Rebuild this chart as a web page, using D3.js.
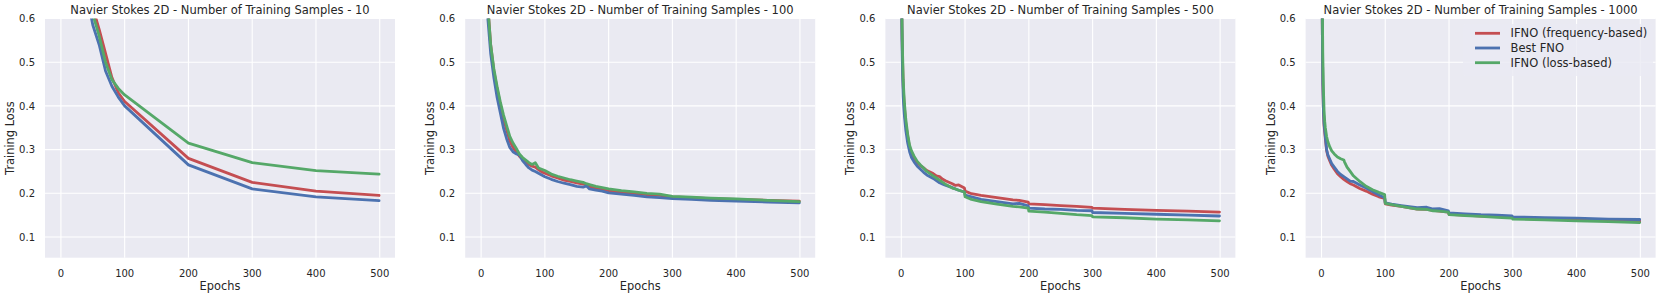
<!DOCTYPE html>
<html><head>
<meta charset="utf-8">
<script src="https://d3js.org/d3.v7.min.js"></script>
<style>
  body { margin: 0; background: #fff; }
  text { font-family: "DejaVu Sans", sans-serif; fill: #262626; }
</style>
</head>
<body>
<svg id="chart" width="1661" height="297"></svg>
<script>

// ---- data ----
const sampleSizes = [10, 100, 500, 1000];
const seriesNames = ["IFNO (frequency-based)", "Best FNO", "IFNO (loss-based)"];
const seriesColors = ["#c44e52", "#4c72b0", "#55a868"];
const xTicks = [0, 100, 200, 300, 400, 500];
const yTicks = [0.1, 0.2, 0.3, 0.4, 0.5, 0.6];

// 10 samples
const epochs10 = [0, 10, 20, 30, 40, 50, 60, 70, 80, 90, 100, 200, 300, 400, 499];
const freq10 = [1.25, 1.05, 0.92, 0.80, 0.70, 0.625, 0.575, 0.52, 0.465, 0.43, 0.41, 0.28, 0.225, 0.205, 0.195];
const best10 = [1.20, 1.00, 0.88, 0.77, 0.66, 0.585, 0.54, 0.48, 0.445, 0.42, 0.40, 0.265, 0.21, 0.192, 0.183];
const loss10 = [1.20, 1.02, 0.90, 0.78, 0.68, 0.61, 0.56, 0.50, 0.46, 0.44, 0.425, 0.315, 0.27, 0.252, 0.244];

// 100 samples
const epochs100 = [0, 5, 10, 15, 20, 25, 30, 35, 40, 45, 50, 55, 60, 65, 70, 75, 80, 85, 90, 95, 100,
  110, 120, 130, 140, 150, 160, 165, 170, 180, 190, 200, 220, 240, 260, 280, 300, 330, 360, 400, 450, 499];
const freq100 = [1.35, 0.90, 0.64, 0.54, 0.48, 0.44, 0.405, 0.37, 0.345, 0.32, 0.305, 0.295, 0.285, 0.278, 0.272, 0.266, 0.262, 0.26, 0.254, 0.249, 0.246,
  0.24, 0.235, 0.23, 0.227, 0.224, 0.221, 0.22, 0.216, 0.212, 0.209, 0.206, 0.202, 0.199, 0.197, 0.195, 0.192, 0.19, 0.188, 0.186, 0.184, 0.182];
const best100 = [1.30, 0.85, 0.61, 0.52, 0.465, 0.42, 0.385, 0.35, 0.325, 0.305, 0.295, 0.29, 0.288, 0.275, 0.266, 0.258, 0.253, 0.25, 0.246, 0.242, 0.238,
  0.232, 0.227, 0.223, 0.22, 0.216, 0.214, 0.217, 0.21, 0.207, 0.205, 0.201, 0.198, 0.195, 0.192, 0.19, 0.188, 0.186, 0.184, 0.182, 0.18, 0.178];
const loss100 = [1.35, 0.90, 0.64, 0.54, 0.485, 0.445, 0.41, 0.38, 0.355, 0.33, 0.315, 0.303, 0.29, 0.282, 0.276, 0.27, 0.266, 0.27, 0.258, 0.255, 0.252,
  0.244, 0.239, 0.235, 0.231, 0.228, 0.225, 0.222, 0.22, 0.216, 0.213, 0.21, 0.206, 0.203, 0.2, 0.198, 0.193, 0.191, 0.189, 0.187, 0.184, 0.181];

// 500 samples
const epochs500 = [0, 1, 2, 3, 4, 5, 7, 10, 13, 16, 20, 25, 30, 35, 40, 50, 55, 60, 65, 70, 80, 85, 90, 99, 100,
  110, 125, 150, 175, 185, 199, 200, 225, 250, 275, 299, 300, 350, 400, 450, 499];
const freq500 = [0.78, 0.58, 0.50, 0.445, 0.415, 0.395, 0.36, 0.33, 0.305, 0.29, 0.28, 0.27, 0.263, 0.258, 0.252, 0.245, 0.24, 0.238, 0.232, 0.228, 0.222, 0.218, 0.219, 0.212, 0.205,
  0.199, 0.195, 0.19, 0.185, 0.184, 0.18, 0.176, 0.174, 0.172, 0.17, 0.168, 0.166, 0.163, 0.161, 0.159, 0.157];
const best500 = [0.75, 0.55, 0.47, 0.42, 0.395, 0.375, 0.345, 0.315, 0.295, 0.282, 0.272, 0.262, 0.255, 0.248, 0.242, 0.234, 0.229, 0.224, 0.221, 0.218, 0.213, 0.21, 0.207, 0.203, 0.196,
  0.192, 0.186, 0.181, 0.176, 0.177, 0.171, 0.166, 0.164, 0.163, 0.161, 0.16, 0.156, 0.154, 0.152, 0.15, 0.148];
const loss500 = [0.80, 0.60, 0.52, 0.46, 0.43, 0.405, 0.37, 0.335, 0.31, 0.297, 0.285, 0.273, 0.265, 0.258, 0.25, 0.24, 0.235, 0.23, 0.225, 0.22, 0.212, 0.21, 0.207, 0.203, 0.192,
  0.186, 0.181, 0.175, 0.17, 0.169, 0.166, 0.159, 0.157, 0.154, 0.151, 0.149, 0.146, 0.144, 0.141, 0.139, 0.137];

// 1000 samples
const epochs1000 = [0, 1, 2, 3, 4, 5, 6, 8, 10, 13, 16, 20, 25, 30, 35, 36, 40, 45, 50, 60, 70, 80, 90, 99, 100,
  110, 125, 150, 165, 175, 185, 199, 200, 225, 250, 275, 299, 300, 350, 400, 450, 499];
const freq1000 = [0.90, 0.62, 0.45, 0.39, 0.355, 0.34, 0.325, 0.298, 0.285, 0.274, 0.264, 0.255, 0.245, 0.238, 0.232, 0.231, 0.227, 0.222, 0.219, 0.211, 0.205, 0.198, 0.192, 0.188, 0.176,
  0.173, 0.17, 0.164, 0.163, 0.161, 0.159, 0.157, 0.152, 0.15, 0.148, 0.147, 0.145, 0.143, 0.141, 0.14, 0.138, 0.136];
const best1000 = [0.90, 0.62, 0.45, 0.39, 0.36, 0.345, 0.33, 0.30, 0.288, 0.278, 0.268, 0.26, 0.25, 0.243, 0.238, 0.237, 0.233, 0.228, 0.227, 0.219, 0.212, 0.204, 0.196, 0.19, 0.178,
  0.175, 0.172, 0.167, 0.168, 0.164, 0.165, 0.16, 0.155, 0.153, 0.151, 0.15, 0.148, 0.146, 0.144, 0.143, 0.141, 0.14];
const loss1000 = [0.95, 0.70, 0.52, 0.44, 0.39, 0.365, 0.35, 0.33, 0.318, 0.306, 0.297, 0.29, 0.283, 0.279, 0.276, 0.272, 0.26, 0.25, 0.24, 0.227, 0.216, 0.208, 0.202, 0.197, 0.177,
  0.174, 0.17, 0.164, 0.163, 0.16, 0.159, 0.157, 0.151, 0.149, 0.147, 0.145, 0.143, 0.141, 0.139, 0.137, 0.135, 0.133];

const panels = [
  { epochs: epochs10, series: [freq10, best10, loss10] },
  { epochs: epochs100, series: [freq100, best100, loss100] },
  { epochs: epochs500, series: [freq500, best500, loss500] },
  { epochs: epochs1000, series: [freq1000, best1000, loss1000] }
];

// ---- layout ----
const svg = d3.select("#chart");
const plotW = 350, plotTop = 18.5, plotBottom = 257.7;
const font = "DejaVu Sans";

const x = d3.scaleLinear().domain([-24.95, 523.95]).range([0, plotW]);
const y = d3.scaleLinear().domain([0.0526, 0.6]).range([plotBottom, plotTop]);

const line = d3.line()
  .x(d => x(d[0]))
  .y(d => y(d[1]));

panels.forEach((p, i) => {
  let g = svg.append("g").attr("transform", `translate(${45 + 420.2 * i},0)`);

  // background
  g.append("rect")
    .attr("x", 0).attr("y", plotTop)
    .attr("width", plotW).attr("height", plotBottom - plotTop)
    .attr("fill", "#eaeaf2");

  // grid
  g.selectAll("line.vgrid").data(xTicks).join("line")
    .attr("class", "vgrid")
    .attr("x1", d => x(d)).attr("x2", d => x(d))
    .attr("y1", plotTop).attr("y2", plotBottom)
    .attr("stroke", "#fff").attr("stroke-width", 1.1);
  g.selectAll("line.hgrid").data(yTicks).join("line")
    .attr("class", "hgrid")
    .attr("x1", 0).attr("x2", plotW)
    .attr("y1", d => y(d)).attr("y2", d => y(d))
    .attr("stroke", "#fff").attr("stroke-width", 1.1);

  // tick labels
  g.selectAll("text.xt").data(xTicks).join("text")
    .attr("class", "xt")
    .attr("x", d => x(d)).attr("y", 277)
    .attr("text-anchor", "middle")
    .attr("font-family", font)
    .style("font-size", "10px")
    .text(d => d);
  g.selectAll("text.yt").data(yTicks).join("text")
    .attr("class", "yt")
    .attr("x", -10).attr("y", d => y(d) + 3.7)
    .attr("text-anchor", "end")
    .attr("font-family", font)
    .style("font-size", "10px")
    .text(d => d3.format(".1f")(d));

  // axis labels + title
  g.append("text")
    .attr("x", plotW / 2).attr("y", 289.5)
    .attr("text-anchor", "middle")
    .attr("font-family", font)
    .style("font-size", "11.4px")
    .text("Epochs");
  g.append("text")
    .attr("transform", `translate(-31,${(plotTop + plotBottom) / 2}) rotate(-90)`)
    .attr("text-anchor", "middle")
    .attr("font-family", font)
    .style("font-size", "11.4px")
    .text("Training Loss");
  g.append("text")
    .attr("x", plotW / 2).attr("y", 14)
    .attr("text-anchor", "middle")
    .attr("font-family", font)
    .style("font-size", "11.5px")
    .text("Navier Stokes 2D - Number of Training Samples - " + sampleSizes[i]);

  // clipped lines
  g.append("clipPath").attr("id", "clip" + i)
    .append("rect")
    .attr("x", 0).attr("y", plotTop)
    .attr("width", plotW).attr("height", plotBottom - plotTop);

  let lines = g.append("g").attr("clip-path", `url(#clip${i})`);
  p.series.forEach((vals, k) => {
    let pts = p.epochs.map((e, j) => [e, vals[j]]);
    lines.append("path")
      .attr("d", line(pts))
      .attr("fill", "none")
      .attr("stroke", seriesColors[k])
      .attr("stroke-width", 2.8)
      .attr("stroke-linejoin", "round")
      .attr("stroke-linecap", "round");
  });

  // legend only on last panel
  if (i === 3) {
    let lg = g.append("g").attr("transform", "translate(157.4,24)");
    lg.append("rect")
      .attr("width", 190).attr("height", 52).attr("rx", 3)
      .attr("fill", "#eaeaf2").attr("opacity", 0.8);
    seriesNames.forEach((name, k) => {
      let yy = 9.3 + k * 14.7;
      lg.append("line")
        .attr("x1", 12).attr("x2", 37)
        .attr("y1", yy).attr("y2", yy)
        .attr("stroke", seriesColors[k]).attr("stroke-width", 2.8);
      lg.append("text")
        .attr("x", 47.6).attr("y", yy + 4)
        .attr("font-family", font)
        .style("font-size", "11.5px")
        .text(name);
    });
  }
});

</script>
</body>
</html>
